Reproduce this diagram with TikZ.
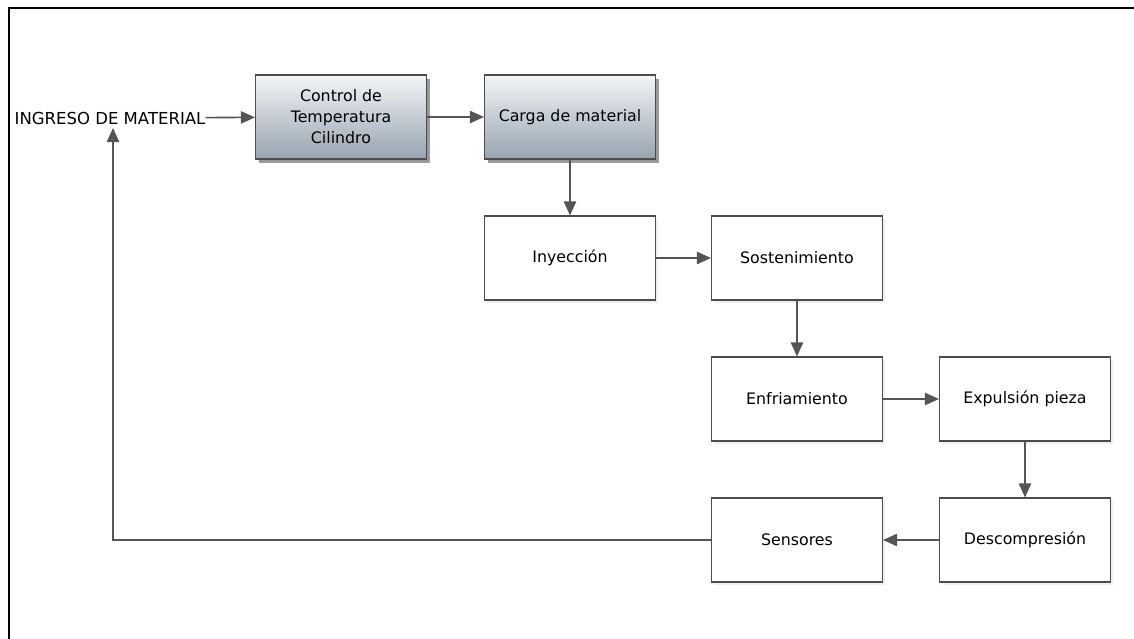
\documentclass[tikz,border=0pt]{standalone}
\usepackage{fontspec}
\setmainfont{DejaVu Sans}
\usetikzlibrary{arrows.meta,shadows}
\definecolor{gristop}{HTML}{F3F5F7}
\definecolor{grisbot}{HTML}{97A4B0}
\definecolor{flecha}{HTML}{555555}
\tikzset{
  caja/.style={draw=black!70, line width=0.6pt, fill=white, minimum width=3.42cm,
    minimum height=1.68cm, align=center, font=\fontsize{9}{12}\selectfont,
    drop shadow={shadow xshift=1.5pt, shadow yshift=-1.5pt, fill=black!12}},
  cajagris/.style={caja, top color=gristop, bottom color=grisbot,
    drop shadow={shadow xshift=2pt, shadow yshift=-2pt, fill=black!75}},
  flujo/.style={draw=flecha, line width=0.9pt,
    -{Triangle[length=8pt, width=7pt, fill=flecha]}}
}
\begin{document}
\begin{tikzpicture}[x=0.02cm, y=-0.02cm]
  \useasboundingbox (0,0) rectangle (1134,639);
  \draw[line width=1.2pt] (9,639) -- (9,8) -- (1134,8);

  \node[font=\fontsize{9.4}{11}\selectfont, inner sep=0pt] (ingreso) at (110,118) {INGRESO DE MATERIAL};
  \node[cajagris] (ctrl) at (341,117) {Control de\\Temperatura\\Cilindro};
  \node[cajagris] (carga) at (570,117) {Carga de material};
  \node[caja] (iny) at (570,258) {Inyección};
  \node[caja] (sost) at (797,258) {Sostenimiento};
  \node[caja] (enfr) at (797,399) {Enfriamiento};
  \node[caja] (expu) at (1025,399) {Expulsión pieza};
  \node[caja] (desc) at (1025,540) {Descompresión};
  \node[caja] (sens) at (797,540) {Sensores};
  \coordinate (retorno) at (113,128);

  \draw[flujo] (ingreso) -- (ctrl);
  \draw[flujo] (ctrl) -- (carga);
  \draw[flujo] (carga) -- (iny);
  \draw[flujo] (iny) -- (sost);
  \draw[flujo] (sost) -- (enfr);
  \draw[flujo] (enfr) -- (expu);
  \draw[flujo] (expu) -- (desc);
  \draw[flujo] (desc) -- (sens);
  \draw[flujo] (sens.west) -| (retorno);
\end{tikzpicture}
\end{document}
